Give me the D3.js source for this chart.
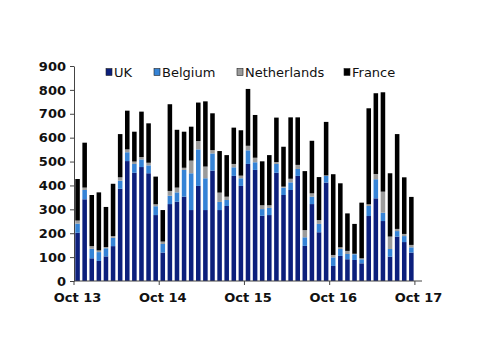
<!DOCTYPE html>
<html>
<head>
<meta charset="utf-8">
<script src="https://cdn.jsdelivr.net/npm/d3@7"></script>
<style>
  html, body { margin: 0; padding: 0; background: #fff; }
  svg { display: block; font-family: "DejaVu Sans", sans-serif; }
</style>
</head>
<body>
<svg id="chart" width="500" height="354"></svg>
<script>
// Monthly categories Oct 2013 .. Oct 2017 (last month has no data)
const categoryStart = "2013-10";
const categoryCount = 49;
const tickLabels = ["Oct 13", "Oct 14", "Oct 15", "Oct 16", "Oct 17"];
const seriesNames = ["UK", "Belgium", "Netherlands", "France"];

const uk = [202, 342, 95, 84, 103, 146, 386, 502, 453, 477, 451, 276, 119, 322, 332, 353,
            297, 398, 297, 462, 297, 314, 440, 398, 490, 465, 273, 276, 453, 360, 381, 440,
            147, 322, 204, 412, 63, 105, 91, 88, 74, 272, 346, 251, 102, 186, 163, 119];
const belgium = [38, 39, 40, 37, 34, 35, 34, 37, 37, 32, 33, 37, 36, 35, 39, 112,
                 154, 153, 133, 72, 34, 25, 36, 32, 57, 32, 28, 30, 37, 31, 32, 29,
                 36, 31, 35, 28, 36, 29, 22, 24, 17, 42, 80, 35, 32, 23, 25, 22];
const netherlands = [13, 10, 11, 7, 5, 7, 14, 12, 10, 10, 11, 8, 10, 20, 20, 9,
                     53, 35, 49, 14, 39, 14, 14, 11, 19, 19, 16, 11, 8, 4, 15, 17,
                     30, 14, 16, 2, 10, 7, 13, 2, 4, 7, 22, 88, 52, 9, 9, 10];
const france = [174, 188, 214, 243, 168, 219, 181, 162, 125, 190, 165, 116, 132, 363, 242, 151,
                142, 161, 273, 154, 174, 174, 152, 190, 238, 179, 184, 210, 186, 167, 257, 199,
                247, 220, 180, 224, 338, 268, 157, 125, 233, 402, 338, 416, 265, 397, 237, 201];
const yTicks = [0, 100, 200, 300, 400, 500, 600, 700, 800, 900];
const colors = ["#0c1f7c", "#3583d6", "#9b9b9b", "#000000"];

const startDate = d3.timeParse("%Y-%m")(categoryStart);
const months = d3.range(categoryCount).map(i => d3.timeMonth.offset(startDate, i));
const fmt = d3.timeFormat("%b %y");
const cats = months.map(fmt);

const rows = uk.map((v, i) => ({
  cat: cats[i], UK: v, Belgium: belgium[i], Netherlands: netherlands[i], France: france[i]
}));

const svg = d3.select("#chart");
const mLeft = 74, mRight = 422, mTop = 66, mBottom = 281;

const x = d3.scaleBand().domain(cats).range([mLeft, mRight]).paddingInner(0.36).paddingOuter(0.18);
const y = d3.scaleLinear().domain([0, 900]).range([mBottom, mTop]);

const stack = d3.stack().keys(seriesNames);
const series = stack(rows);

svg.append("g").selectAll("g")
  .data(series).join("g")
  .attr("fill", (d, i) => colors[i])
  .selectAll("rect")
  .data(d => d).join("rect")
  .attr("x", d => x(d.data.cat))
  .attr("width", x.bandwidth())
  .attr("y", d => y(d[1]))
  .attr("height", d => Math.max(0, y(d[0]) - y(d[1])));

// Y axis
const yAxis = d3.axisLeft(y).tickValues(yTicks).tickSize(4).tickSizeOuter(0).tickPadding(4);
const gy = svg.append("g").attr("transform", `translate(${mLeft},0)`).call(yAxis);
gy.select(".domain").attr("stroke", "#444");
gy.selectAll(".tick line").attr("stroke", "#444");
gy.selectAll(".tick text").attr("font-size", 13).attr("font-weight", "bold")
  .attr("fill", "#111").attr("font-family", "DejaVu Sans, sans-serif");

// X axis: ticks between years, labels centred on the October categories
const tickCats = cats.filter((c, i) => i % 12 === 0);
const gx = svg.append("g").attr("transform", `translate(0,${mBottom})`);
gx.append("line").attr("x1", mLeft).attr("x2", mRight).attr("y1", 0).attr("y2", 0).attr("stroke", "#444");
gx.selectAll("line.tk").data(tickCats).join("line").attr("class", "tk")
  .attr("x1", d => x(d) - x.step() * x.paddingInner() / 2)
  .attr("x2", d => x(d) - x.step() * x.paddingInner() / 2)
  .attr("y1", 0).attr("y2", 4).attr("stroke", "#444");
gx.selectAll("text").data(tickCats).join("text")
  .attr("x", d => x(d) + x.bandwidth() / 2)
  .attr("y", 21)
  .attr("text-anchor", "middle")
  .attr("font-size", 13).attr("font-weight", "bold").attr("fill", "#111")
  .text((d, i) => tickLabels[i]);

// Legend
const legendX = [106, 154, 237, 344];
const lg = svg.append("g").selectAll("g").data(seriesNames).join("g")
  .attr("transform", (d, i) => `translate(${legendX[i]},68)`);
lg.append("rect").attr("x", 0).attr("y", 0.5).attr("width", 6).attr("height", 7)
  .attr("fill", (d, i) => colors[i]).attr("stroke", "#222").attr("stroke-width", 0.6);
lg.append("text").attr("x", 8).attr("y", 9).attr("font-size", 13).attr("fill", "#111").text(d => d);
</script>
</body>
</html>
